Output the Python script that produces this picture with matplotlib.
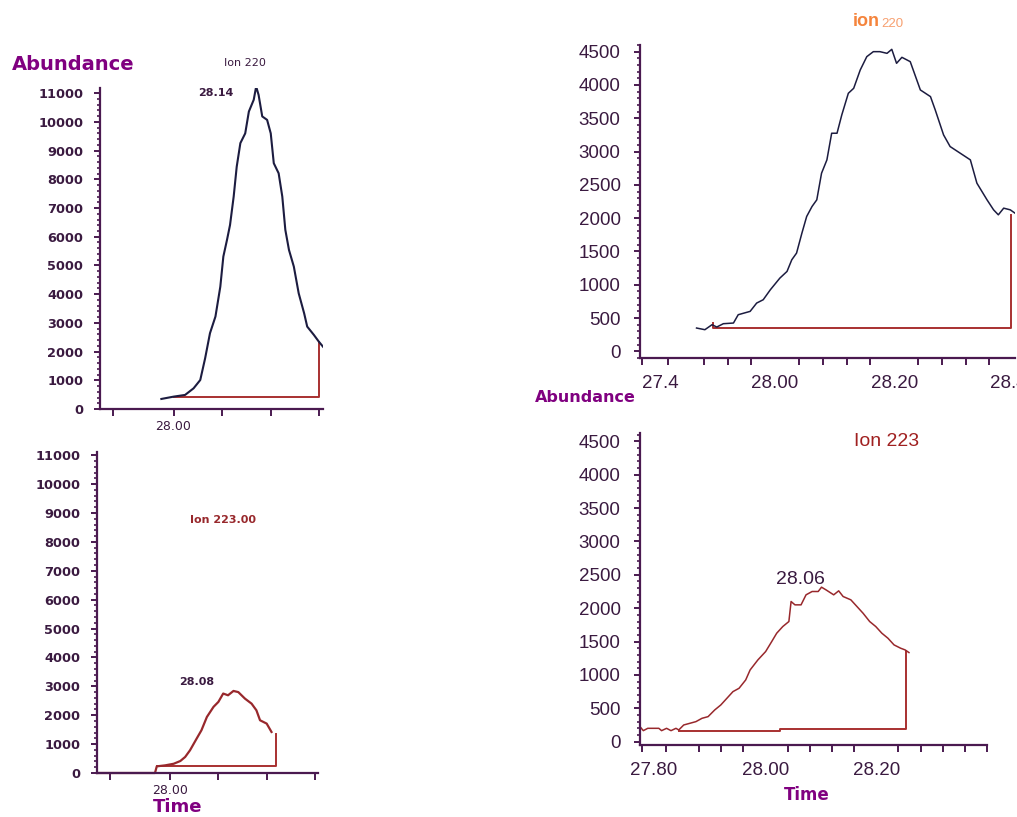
import matplotlib
matplotlib.use("Agg")
import matplotlib.pyplot as plt
from matplotlib.ticker import MultipleLocator, NullFormatter

W, H = 1017, 817

# ---------------- data ----------------
# top-left: Ion 220 (wide scale)
tl_time = [27.980, 28.000, 28.019, 28.033, 28.044, 28.052, 28.060, 28.069, 28.077, 28.082,
           28.088, 28.093, 28.099, 28.104, 28.110, 28.118, 28.124, 28.132, 28.136, 28.140,
           28.146, 28.154, 28.160, 28.165, 28.173, 28.179, 28.184, 28.190, 28.198, 28.206,
           28.215, 28.220, 28.231, 28.239, 28.246]
tl_abund = [350, 430, 490, 720, 1010, 1765, 2640, 3220, 4260, 5310,
            5890, 6410, 7400, 8440, 9260, 9600, 10360, 10770, 11230, 10940,
            10190, 10070, 9600, 8560, 8210, 7400, 6240, 5540, 4960, 4030,
            3330, 2870, 2580, 2350, 2170]
tl_base_time = [28.000, 28.239, 28.239]
tl_base_abund = [410, 410, 2330]

# bottom-left: Ion 223.00 (wide scale)
bl_time = [27.879, 27.975, 27.978, 27.992, 28.006, 28.017, 28.025, 28.033, 28.044, 28.052,
           28.061, 28.072, 28.080, 28.088, 28.096, 28.105, 28.113, 28.124, 28.135, 28.143,
           28.149, 28.160, 28.168]
bl_abund = [0, 0, 230, 265, 320, 415, 555, 785, 1190, 1480,
            1940, 2290, 2460, 2750, 2690, 2840, 2800, 2575, 2400, 2170,
            1825, 1710, 1420]
bl_base_time = [27.978, 28.175, 28.175]
bl_base_abund = [230, 230, 1340]

# top-right: ion 220 (zoomed)
tr_time = [27.868, 27.882, 27.894, 27.902, 27.913, 27.930, 27.938, 27.958, 27.969, 27.980,
           27.992, 28.008, 28.020, 28.028, 28.036, 28.045, 28.053, 28.062, 28.070, 28.078,
           28.087, 28.095, 28.104, 28.112, 28.123, 28.132, 28.143, 28.154, 28.165, 28.176,
           28.188, 28.196, 28.204, 28.213, 28.227, 28.244, 28.261, 28.269, 28.283, 28.294,
           28.311, 28.328, 28.339, 28.356, 28.367, 28.375, 28.384, 28.395, 28.403]
tr_abund = [350, 325, 400, 365, 415, 425, 550, 600, 725, 775,
            925, 1100, 1200, 1375, 1475, 1775, 2025, 2175, 2275, 2675,
            2875, 3275, 3275, 3550, 3875, 3950, 4225, 4425, 4500, 4500,
            4475, 4535, 4325, 4415, 4350, 3925, 3825, 3625, 3250, 3075,
            2975, 2875, 2525, 2275, 2125, 2050, 2150, 2125, 2075]
tr_base_time = [27.895, 27.895, 28.396, 28.396]
tr_base_abund = [420, 350, 350, 2050]

# bottom-right: Ion 223 (zoomed)
br_time = [27.773, 27.779, 27.787, 27.807, 27.812, 27.821, 27.829, 27.838, 27.843, 27.852,
           27.863, 27.874, 27.885, 27.896, 27.908, 27.919, 27.930, 27.941, 27.952, 27.964,
           27.972, 27.986, 28.000, 28.011, 28.020, 28.031, 28.042, 28.046, 28.053, 28.064,
           28.073, 28.084, 28.095, 28.101, 28.109, 28.123, 28.132, 28.140, 28.154, 28.165,
           28.176, 28.188, 28.199, 28.210, 28.221, 28.232, 28.244, 28.252, 28.259]
br_abund = [225, 165, 200, 200, 165, 200, 165, 200, 175, 250,
            275, 300, 350, 375, 475, 550, 650, 750, 800, 925,
            1075, 1225, 1350, 1500, 1625, 1725, 1800, 2100, 2050, 2050,
            2200, 2250, 2250, 2315, 2275, 2200, 2260, 2175, 2125, 2025,
            1925, 1800, 1725, 1625, 1550, 1450, 1400, 1375, 1335]
br_base_time = [27.843, 28.026, 28.026, 28.254, 28.254]
br_base_abund = [165, 165, 190, 190, 1365]

# ticks
left_yticks = list(range(0, 11001, 1000))
left_xticks = [27.90, 28.00, 28.08, 28.16, 28.24]
left_xlabels = ["", "28.00", "", "", ""]
right_yticks = list(range(0, 4501, 500))
right_ytick_labels = ["0", "500", "1000", "1500", "2000", "2500", "3000", "3500", "4000", "4500"]
right_xmarks = [27.777, 27.82, 27.88, 27.92, 27.96, 28.00, 28.04, 28.08, 28.12, 28.16,
                28.20, 28.24, 28.28, 28.32, 28.36, 28.40]
tr_xlabel_pos = [27.807, 28.00, 28.20, 28.40]
tr_xlabels = ["27.4", "28.00", "28.20", "28.40"]
br_xlabel_pos = [27.798, 28.00, 28.20]
br_xlabels = ["27.80", "28.00", "28.20"]

# ---------------- style ----------------
NAVY = "#1c1c40"
RED = "#a83030"
MAROON = "#98282c"
AXC = "#4a1a50"
TXT = "#3a1a40"
PURPLE = "#800080"
ORANGE = "#f5843c"

fig = plt.figure(figsize=(W / 100, H / 100), dpi=100)
fig.patch.set_facecolor("white")


def make_ax(l, r, t, b):
    ax = fig.add_axes([l / W, 1 - b / H, (r - l) / W, (b - t) / H])
    for s in ("top", "right"):
        ax.spines[s].set_visible(False)
    for s in ("left", "bottom"):
        ax.spines[s].set_color(AXC)
        ax.spines[s].set_linewidth(1.6)
    ax.set_facecolor("none")
    return ax


def style_left(ax, xlim, ylim):
    ax.set_xlim(*xlim)
    ax.set_ylim(*ylim)
    ax.set_yticks(left_yticks)
    ax.set_yticklabels([str(v) for v in left_yticks], fontsize=9.3, fontweight="bold",
                       color=TXT, family="DejaVu Sans")
    ax.yaxis.set_minor_locator(MultipleLocator(200))
    ax.set_xticks(left_xticks)
    ax.set_xticklabels(left_xlabels, fontsize=9, color=TXT, family="DejaVu Sans")
    ax.tick_params(axis="y", which="major", length=4, width=1.4, color=AXC, pad=8)
    ax.tick_params(axis="y", which="minor", length=2.5, width=1.2, color=AXC)
    ax.tick_params(axis="x", which="major", length=5, width=1.4, color=AXC, pad=3)


def style_right(ax, xlim, ylim, lab_pos, labs):
    ax.set_xlim(*xlim)
    ax.set_ylim(*ylim)
    ax.set_yticks(right_yticks)
    ax.set_yticklabels(right_ytick_labels, fontsize=13.5, color=TXT, family="Liberation Sans")
    ax.yaxis.set_minor_locator(MultipleLocator(100))
    ax.set_xticks(right_xmarks, minor=True)
    ax.set_xticks(lab_pos)
    ax.set_xticklabels(labs, fontsize=13.5, color=TXT, family="Liberation Sans")
    ax.xaxis.set_minor_formatter(NullFormatter())
    ax.tick_params(axis="y", which="major", length=4, width=1.4, color=AXC, pad=10)
    ax.tick_params(axis="y", which="minor", length=2.5, width=1.2, color=AXC)
    ax.tick_params(axis="x", which="major", length=0, pad=12)
    ax.tick_params(axis="x", which="minor", length=5, width=1.4, color=AXC)


# top-left
ax1 = make_ax(100, 323, 88, 409)
ax1.plot(tl_base_time, tl_base_abund, color=RED, lw=1.4)
ax1.plot(tl_time, tl_abund, color=NAVY, lw=1.5)
style_left(ax1, (27.879, 28.246), (0, 11180))
ax1.text(28.069, 11000, "28.14", fontsize=8, color=TXT, fontweight="bold",
         ha="center", va="center")

# bottom-left
ax2 = make_ax(97, 318, 452, 773)
ax2.plot(bl_base_time, bl_base_abund, color=RED, lw=1.4)
ax2.plot(bl_time, bl_abund, color=MAROON, lw=1.6, clip_on=False)
style_left(ax2, (27.879, 28.245), (0, 11110))
ax2.text(28.044, 3150, "28.08", fontsize=8, color=TXT, fontweight="bold",
         ha="center", va="center")

# top-right
ax3 = make_ax(640, 1015, 45, 358)
ax3.plot(tr_base_time, tr_base_abund, color=RED, lw=1.4)
ax3.plot(tr_time, tr_abund, color=NAVY, lw=1.1)
style_right(ax3, (27.773, 28.403), (-100, 4600), tr_xlabel_pos, tr_xlabels)

# bottom-right
ax4 = make_ax(640, 987, 433, 745)
ax4.plot(br_base_time, br_base_abund, color=RED, lw=1.4)
ax4.plot(br_time, br_abund, color=MAROON, lw=1.1)
style_right(ax4, (27.773, 28.356), (-50, 4625), br_xlabel_pos, br_xlabels)
ax4.text(28.063, 2425, "28.06", fontsize=14, color=TXT, family="Liberation Sans",
         ha="center", va="center")


def ftxt(px, py, s, **kw):
    fig.text(px / W, 1 - py / H, s, ha="center", va="center", **kw)


ftxt(73, 65, "Abundance", fontsize=14, fontweight="bold", color=PURPLE)
ftxt(245, 63, "Ion 220", fontsize=8, color=TXT)
ftxt(223, 520, "Ion 223.00", fontsize=8, fontweight="bold", color=MAROON)
ftxt(178, 807, "Time", fontsize=13, fontweight="bold", color=PURPLE)
ftxt(866, 22, "ion", fontsize=13, fontweight="bold", color=ORANGE, family="Liberation Sans")
ftxt(892, 24, "220", fontsize=9.5, color="#f7a070", family="Liberation Sans")
ftxt(585, 397, "Abundance", fontsize=11.5, fontweight="bold", color=PURPLE)
ftxt(887, 442, "Ion 223", fontsize=14, color="#a02020", family="Liberation Sans")
ftxt(807, 795, "Time", fontsize=12, fontweight="bold", color=PURPLE)

fig.savefig("out.png", dpi=100)
